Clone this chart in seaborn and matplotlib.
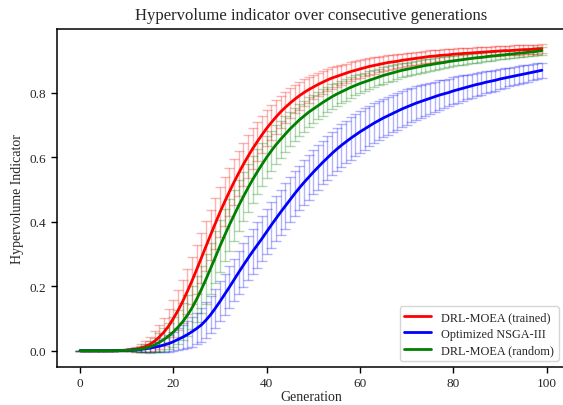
import numpy as np
import pandas as pd
import matplotlib
matplotlib.use("Agg")
import matplotlib.pyplot as plt
import seaborn as sns

# -----------------------------
# DATA
# -----------------------------
generations = list(range(100))

methods = ["DRL-MOEA (trained)", "Optimized NSGA-III", "DRL-MOEA (random)"]
colors = ["red", "blue", "green"]

hv_trained = [
    0.000, 0.000, 0.000, 0.000, 0.000, 0.000, 0.000, 0.000, 0.001, 0.001,
    0.002, 0.003, 0.005, 0.008, 0.013, 0.020, 0.030, 0.043, 0.058, 0.077,
    0.100, 0.125, 0.153, 0.184, 0.217, 0.252, 0.288, 0.324, 0.360, 0.395,
    0.430, 0.462, 0.493, 0.523, 0.551, 0.578, 0.603, 0.627, 0.649, 0.670,
    0.690, 0.708, 0.725, 0.741, 0.755, 0.768, 0.780, 0.791, 0.801, 0.810,
    0.818, 0.826, 0.833, 0.840, 0.846, 0.851, 0.856, 0.861, 0.866, 0.870,
    0.874, 0.878, 0.882, 0.885, 0.888, 0.891, 0.894, 0.896, 0.898, 0.901,
    0.903, 0.905, 0.907, 0.909, 0.911, 0.913, 0.914, 0.916, 0.917, 0.918,
    0.920, 0.921, 0.922, 0.923, 0.924, 0.925, 0.926, 0.927, 0.928, 0.929,
    0.930, 0.931, 0.931, 0.932, 0.933, 0.934, 0.934, 0.935, 0.936, 0.937,
]
std_trained = [
    0.000, 0.000, 0.000, 0.000, 0.000, 0.000, 0.000, 0.000, 0.001, 0.002,
    0.003, 0.005, 0.008, 0.012, 0.017, 0.023, 0.030, 0.037, 0.044, 0.051,
    0.057, 0.062, 0.066, 0.070, 0.073, 0.075, 0.077, 0.078, 0.078, 0.078,
    0.077, 0.076, 0.074, 0.072, 0.070, 0.068, 0.066, 0.063, 0.061, 0.058,
    0.056, 0.054, 0.052, 0.050, 0.048, 0.046, 0.044, 0.043, 0.041, 0.040,
    0.038, 0.037, 0.036, 0.034, 0.033, 0.032, 0.031, 0.030, 0.029, 0.028,
    0.027, 0.026, 0.026, 0.025, 0.024, 0.024, 0.023, 0.022, 0.022, 0.021,
    0.021, 0.020, 0.020, 0.019, 0.019, 0.019, 0.018, 0.018, 0.018, 0.017,
    0.017, 0.017, 0.017, 0.016, 0.016, 0.016, 0.016, 0.016, 0.015, 0.015,
    0.015, 0.015, 0.015, 0.015, 0.015, 0.014, 0.014, 0.014, 0.014, 0.014,
]

hv_nsga = [
    0.000, 0.000, 0.000, 0.000, 0.000, 0.000, 0.000, 0.000, 0.000, 0.001,
    0.001, 0.002, 0.003, 0.004, 0.006, 0.008, 0.011, 0.014, 0.018, 0.022,
    0.028, 0.035, 0.042, 0.050, 0.059, 0.069, 0.080, 0.095, 0.112, 0.132,
    0.153, 0.175, 0.197, 0.220, 0.243, 0.265, 0.287, 0.308, 0.328, 0.348,
    0.369, 0.390, 0.410, 0.430, 0.449, 0.468, 0.487, 0.505, 0.522, 0.538,
    0.554, 0.569, 0.584, 0.598, 0.612, 0.625, 0.637, 0.648, 0.659, 0.669,
    0.679, 0.688, 0.697, 0.706, 0.714, 0.722, 0.729, 0.736, 0.743, 0.750,
    0.756, 0.762, 0.768, 0.773, 0.778, 0.783, 0.788, 0.793, 0.797, 0.801,
    0.806, 0.810, 0.814, 0.818, 0.822, 0.826, 0.829, 0.833, 0.836, 0.839,
    0.843, 0.846, 0.849, 0.852, 0.855, 0.858, 0.861, 0.864, 0.867, 0.870,
]
std_nsga = [
    0.000, 0.000, 0.000, 0.000, 0.000, 0.000, 0.000, 0.000, 0.001, 0.001,
    0.002, 0.003, 0.005, 0.007, 0.009, 0.012, 0.015, 0.018, 0.022, 0.026,
    0.030, 0.034, 0.038, 0.042, 0.046, 0.049, 0.052, 0.055, 0.058, 0.060,
    0.062, 0.064, 0.065, 0.066, 0.067, 0.068, 0.069, 0.069, 0.070, 0.070,
    0.070, 0.070, 0.070, 0.070, 0.070, 0.070, 0.070, 0.069, 0.069, 0.069,
    0.069, 0.069, 0.068, 0.068, 0.068, 0.067, 0.067, 0.066, 0.066, 0.065,
    0.065, 0.064, 0.063, 0.062, 0.061, 0.060, 0.059, 0.058, 0.057, 0.056,
    0.055, 0.053, 0.052, 0.051, 0.049, 0.048, 0.047, 0.046, 0.044, 0.043,
    0.042, 0.041, 0.040, 0.038, 0.037, 0.036, 0.035, 0.034, 0.033, 0.032,
    0.031, 0.030, 0.029, 0.029, 0.028, 0.027, 0.026, 0.025, 0.025, 0.024,
]

hv_random = [
    0.000, 0.000, 0.000, 0.000, 0.000, 0.000, 0.000, 0.000, 0.000, 0.001,
    0.001, 0.002, 0.003, 0.005, 0.008, 0.012, 0.018, 0.026, 0.035, 0.046,
    0.058, 0.073, 0.090, 0.110, 0.133, 0.160, 0.190, 0.222, 0.256, 0.290,
    0.325, 0.358, 0.390, 0.420, 0.450, 0.478, 0.505, 0.531, 0.555, 0.578,
    0.600, 0.620, 0.639, 0.656, 0.672, 0.688, 0.702, 0.716, 0.728, 0.740,
    0.750, 0.760, 0.770, 0.779, 0.788, 0.796, 0.803, 0.810, 0.817, 0.823,
    0.829, 0.834, 0.839, 0.844, 0.849, 0.854, 0.858, 0.862, 0.866, 0.870,
    0.873, 0.876, 0.879, 0.882, 0.885, 0.887, 0.890, 0.892, 0.894, 0.897,
    0.899, 0.901, 0.903, 0.905, 0.907, 0.909, 0.910, 0.912, 0.914, 0.915,
    0.917, 0.918, 0.920, 0.921, 0.923, 0.924, 0.926, 0.927, 0.929, 0.931,
]
std_random = [
    0.000, 0.000, 0.000, 0.000, 0.000, 0.000, 0.000, 0.000, 0.001, 0.001,
    0.002, 0.004, 0.006, 0.009, 0.013, 0.018, 0.023, 0.029, 0.035, 0.041,
    0.047, 0.053, 0.058, 0.063, 0.067, 0.071, 0.074, 0.077, 0.079, 0.080,
    0.081, 0.081, 0.081, 0.080, 0.079, 0.077, 0.075, 0.073, 0.070, 0.068,
    0.065, 0.063, 0.060, 0.058, 0.056, 0.054, 0.052, 0.050, 0.048, 0.046,
    0.044, 0.042, 0.041, 0.039, 0.038, 0.036, 0.035, 0.034, 0.032, 0.031,
    0.030, 0.029, 0.028, 0.027, 0.026, 0.025, 0.024, 0.024, 0.023, 0.022,
    0.021, 0.021, 0.020, 0.020, 0.019, 0.019, 0.018, 0.018, 0.017, 0.017,
    0.016, 0.016, 0.016, 0.015, 0.015, 0.015, 0.014, 0.014, 0.014, 0.014,
    0.013, 0.013, 0.013, 0.013, 0.013, 0.013, 0.012, 0.012, 0.012, 0.012,
]

means = [hv_trained, hv_nsga, hv_random]
stds = [std_trained, std_nsga, std_random]

# -----------------------------
# SETUP
# -----------------------------
sns.set_style("ticks")
plt.rcParams["font.family"] = ["Liberation Serif", "DejaVu Serif"]
plt.rcParams["xtick.direction"] = "out"
plt.rcParams["ytick.direction"] = "out"

df = pd.concat(
    [pd.DataFrame({"Generation": generations, "hv": m, "std": s, "method": name})
     for name, m, s in zip(methods, means, stds)],
    ignore_index=True,
)

fig = plt.figure(figsize=(5.63, 4.06), dpi=100)
# right spine sits just past the image edge, like in the (cropped) original
ax = fig.add_axes([0.1012, 0.094, 0.9023, 0.832])

# error bars first, faded
for name, c in zip(methods, colors):
    sub = df[df["method"] == name]
    ax.errorbar(sub["Generation"], sub["hv"], yerr=sub["std"], fmt="none",
                ecolor=c, alpha=0.3, capsize=3.5, elinewidth=1, capthick=1)

sns.lineplot(data=df, x="Generation", y="hv", hue="method", hue_order=methods,
             palette=colors, linewidth=2, errorbar=None, ax=ax)

ax.set_xlim(-4.95, 103.95)
ax.set_ylim(-0.05, 0.998)
ax.set_xticks([0, 20, 40, 60, 80, 100])
ax.set_yticks([0.0, 0.2, 0.4, 0.6, 0.8])
ax.set_yticklabels(["0.0", "0.2", "0.4", "0.6", "0.8"])
ax.tick_params(labelsize=9.5, length=4, width=1, color="black")
for sp in ax.spines.values():
    sp.set_visible(True)
    sp.set_linewidth(1.1)
    sp.set_color("black")

ax.set_title("Hypervolume indicator over consecutive generations", fontsize=12, pad=7)
ax.set_xlabel("Generation", fontsize=10, labelpad=0.5)
ax.set_ylabel("Hypervolume Indicator", fontsize=10, labelpad=4)

ax.legend(loc="lower right", fontsize=8.8, frameon=True, fancybox=True,
          edgecolor="0.8", framealpha=0.8, borderaxespad=0.5,
          labelspacing=0.35, handlelength=2.2)

plt.savefig("out.png", dpi=100)
plt.close()
